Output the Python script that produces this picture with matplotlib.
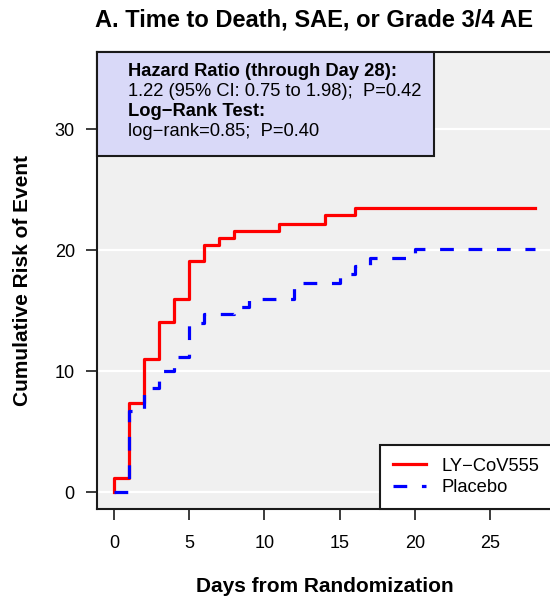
import matplotlib
matplotlib.use("Agg")
import matplotlib.pyplot as plt
from matplotlib.patches import Rectangle

plt.rcParams["font.family"] = ["Liberation Sans", "DejaVu Sans"]

# cumulative risk of event (%)
ly_days = [0, 0, 1, 2, 3, 4, 5, 6, 7, 8, 11, 14, 16, 28]
ly_risk = [0, 1.2, 7.4, 11.0, 14.1, 16.0, 19.1, 20.4, 21.0, 21.6, 22.2, 22.9, 23.5, 23.5]
pl_days = [0, 1, 2, 3, 4, 5, 6, 8, 9, 12, 15, 16, 17, 20, 28]
pl_risk = [0, 6.7, 8.6, 10.0, 11.2, 14.0, 14.7, 15.3, 16.0, 17.3, 18.0, 18.7, 19.4, 20.1, 20.1]

series_names = ["LY\u2212CoV555", "Placebo"]
x_ticks = [0, 5, 10, 15, 20, 25]
y_ticks = [0, 10, 20, 30]

stats_lines = [
    ("Hazard Ratio (through Day 28):", "bold"),
    ("1.22 (95% CI: 0.75 to 1.98);  P=0.42", "normal"),
    ("Log\u2212Rank Test:", "bold"),
    ("log\u2212rank=0.85;  P=0.40", "normal"),
]

BG = "#F0F0F0"
BOX = "#D9D9F8"
RED = "#FF0000"
BLUE = "#0000FF"
EDGE = "#1A1A1A"

fig = plt.figure(figsize=(5.5, 6.01), dpi=100, facecolor="white")
ax = fig.add_axes([97 / 550, 92 / 601, 455 / 550, 457 / 601])
ax.set_facecolor(BG)

ax.set_xlim(-1.12, 29.12)
ax.set_ylim(-1.4, 36.4)
ax.set_xticks(x_ticks)
ax.set_yticks(y_ticks)
ax.grid(axis="y", color="white", linewidth=1.6)
ax.set_axisbelow(True)

for spine in ax.spines.values():
    spine.set_color(EDGE)
    spine.set_linewidth(1.5)
ax.tick_params(axis="both", length=8, width=1.2, color=EDGE, labelsize=13)
ax.tick_params(axis="y", pad=8)
ax.tick_params(axis="x", pad=11)

# curves
ax.step(ly_days, ly_risk, where="post", color=RED, linewidth=2.3,
        label=series_names[0], zorder=3)
ax.step(pl_days, pl_risk, where="post", color=BLUE, linewidth=2.3,
        linestyle=(0, (4.3, 4.6)), label=series_names[1], zorder=4)

# stats box, top-left
ax.add_patch(Rectangle((0, 1 - 104 / 457), 337 / 455, 104 / 457,
                       transform=ax.transAxes, facecolor=BOX, edgecolor=EDGE,
                       linewidth=1.5, zorder=5, clip_on=False))
line_y = [72, 92, 112, 131]
for (txt, wt), yp in zip(stats_lines, line_y):
    ax.text(31 / 455, (509 - yp) / 457, txt, transform=ax.transAxes,
            fontsize=13.2, fontweight=wt, va="center", ha="left", zorder=6)

leg = ax.legend(loc="lower right", borderaxespad=0, fancybox=False,
                framealpha=1, edgecolor=EDGE, fontsize=13.2,
                handlelength=1.8, handletextpad=0.85, borderpad=0.7,
                labelspacing=0.25)
leg.get_frame().set_linewidth(1.5)
leg.set_zorder(7)

ax.set_xlabel("Days from Randomization", fontsize=15, fontweight="bold",
              labelpad=18)
ax.set_ylabel("Cumulative Risk of Event", fontsize=15, fontweight="bold",
              labelpad=16)
fig.text(314 / 550, 1 - 20 / 601, "A. Time to Death, SAE, or Grade 3/4 AE",
         fontsize=17, fontweight="bold", ha="center", va="center")

fig.savefig("out.png", dpi=100, facecolor="white")
